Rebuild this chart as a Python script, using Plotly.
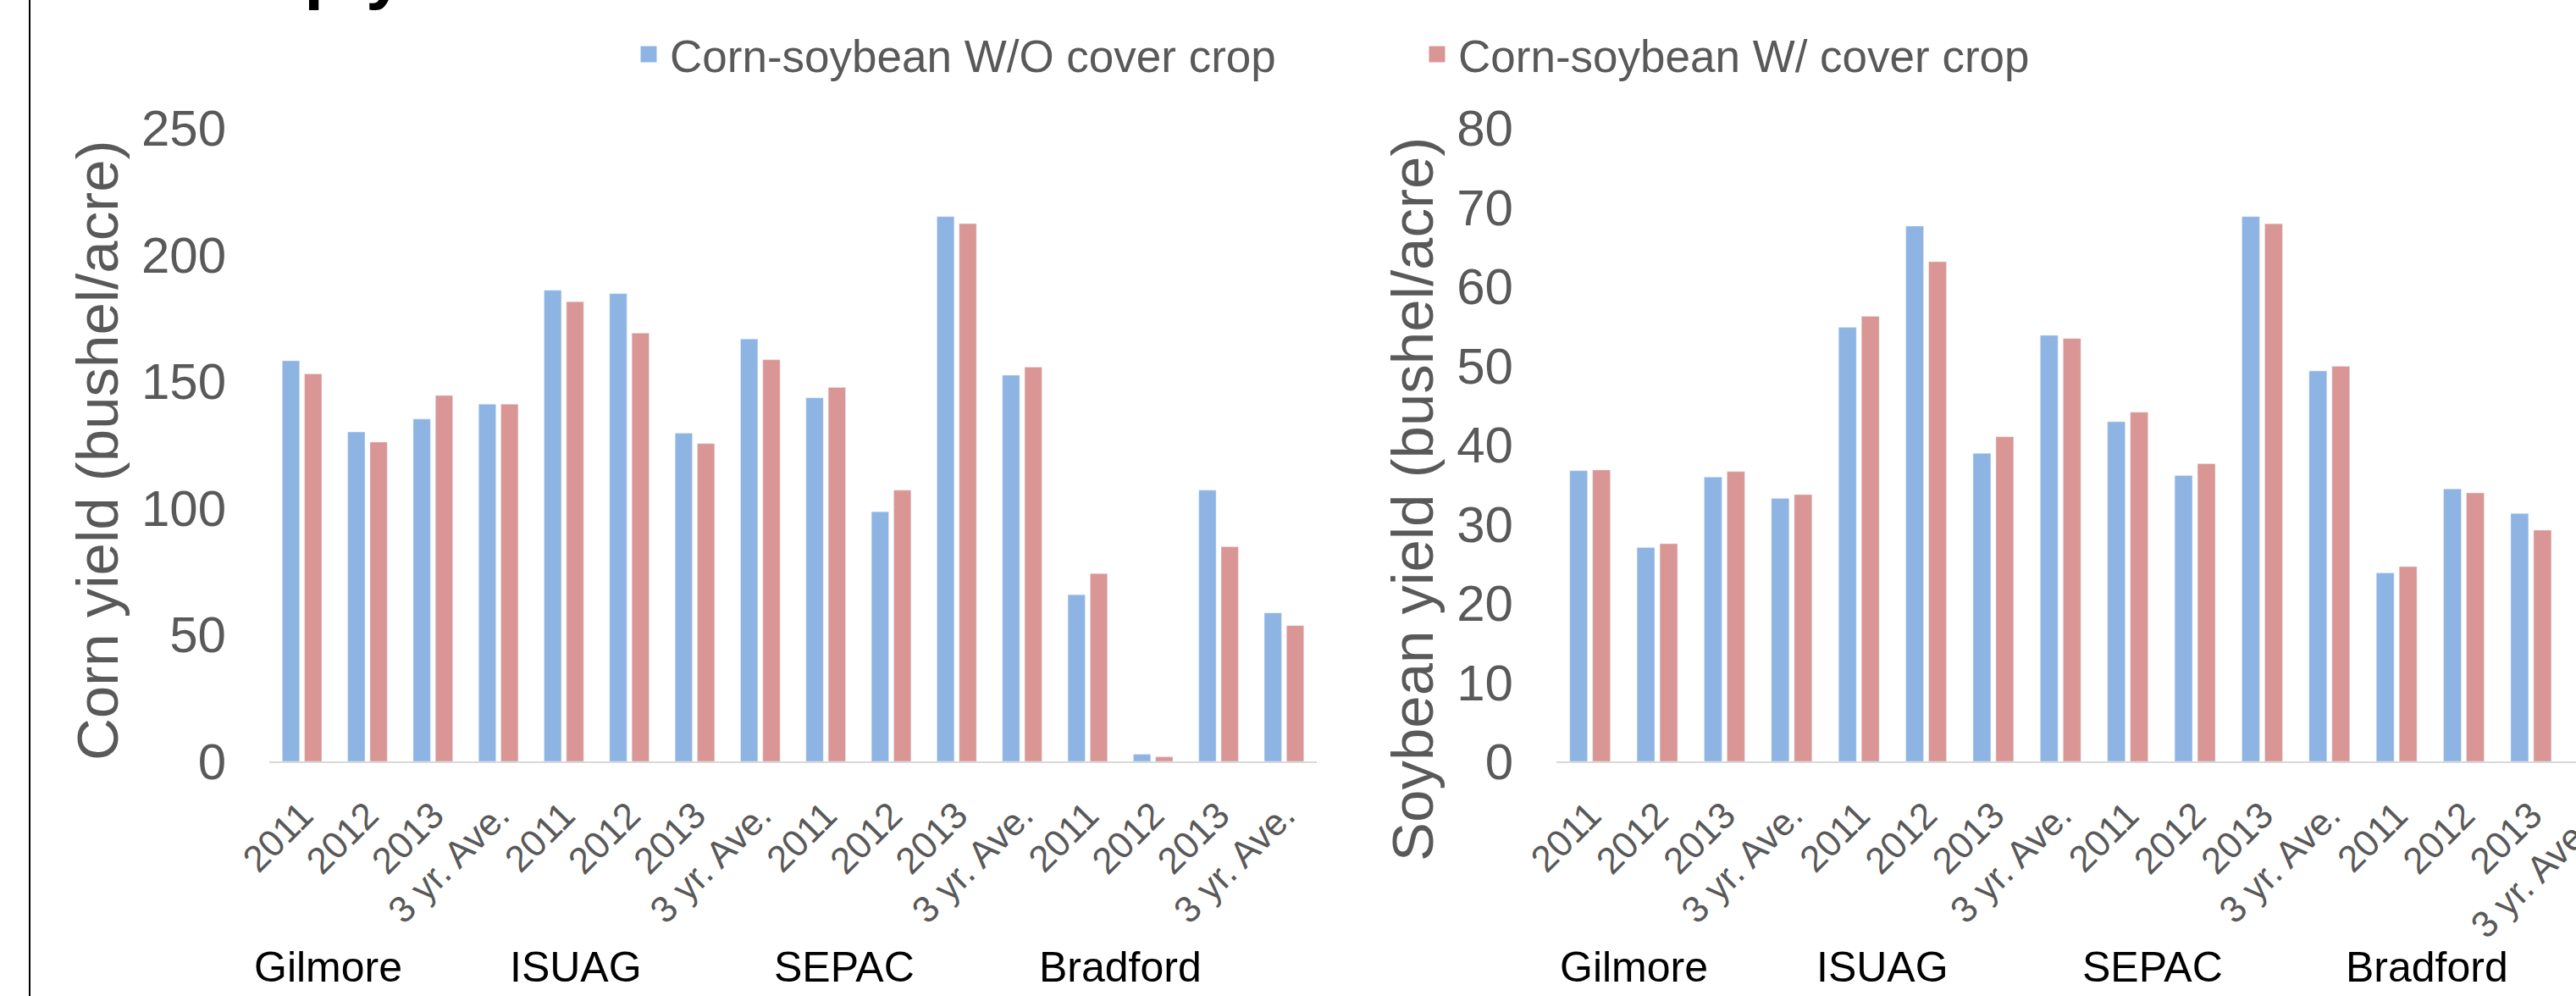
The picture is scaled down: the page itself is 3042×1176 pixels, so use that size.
import plotly.graph_objects as go

W, H = 3042, 1176

sites = ["Gilmore", "ISUAG", "SEPAC", "Bradford"]
periods = ["2011", "2012", "2013", "3 yr. Ave."]
categories = [f"{s} {p}" for s in sites for p in periods]
tick_labels = periods * 4

series_names = ["Corn-soybean W/O cover crop", "Corn-soybean W/ cover crop"]

corn_without = [158.1, 130.0, 135.1, 141.0,
                185.9, 184.6, 129.5, 166.7,
                143.5, 98.5, 215.0, 152.4,
                65.8, 2.8, 107.0, 58.6]
corn_with = [152.9, 126.0, 144.4, 141.0,
             181.4, 169.0, 125.4, 158.5,
             147.6, 107.0, 212.2, 155.6,
             74.1, 1.8, 84.7, 53.6]
soy_without = [36.7, 27.0, 35.9, 33.2,
               54.8, 67.6, 38.9, 53.8,
               42.9, 36.1, 68.8, 49.3,
               23.8, 34.4, 31.3, None]
soy_with = [36.8, 27.5, 36.6, 33.7,
            56.2, 63.1, 41.0, 53.4,
            44.1, 37.6, 67.9, 49.9,
            24.6, 33.9, 29.2, None]

corn_ticks = [0, 50, 100, 150, 200, 250]
soy_ticks = [0, 10, 20, 30, 40, 50, 60, 70, 80]

BLUE = "#8EB4E3"
RED = "#D99694"
GRAY = "#595959"
FONT = "Liberation Sans, Arial, sans-serif"


def px(x):
    return x / W


def py(y):
    return 1 - y / H


fig = go.Figure()

fig.add_trace(go.Bar(x=categories, y=corn_without, marker_color=BLUE, name=series_names[0],
                     showlegend=False, xaxis="x", yaxis="y"))
fig.add_trace(go.Bar(x=categories, y=corn_with, marker_color=RED, name=series_names[1],
                     showlegend=False, xaxis="x", yaxis="y"))
fig.add_trace(go.Bar(x=categories, y=soy_without, marker_color=BLUE, name=series_names[0],
                     showlegend=False, xaxis="x2", yaxis="y2"))
fig.add_trace(go.Bar(x=categories, y=soy_with, marker_color=RED, name=series_names[1],
                     showlegend=False, xaxis="x2", yaxis="y2"))

# legend entries
for nm, col in zip(series_names, [BLUE, RED]):
    fig.add_trace(go.Scatter(x=[None], y=[None], mode="markers", name=nm,
                             marker=dict(symbol="square", size=16, color=col,
                                         line=dict(color=col, width=3)),
                             xaxis="x", yaxis="y", showlegend=True))

ydom = [py(899), py(151)]

xcommon = dict(type="category", categoryorder="array", categoryarray=categories,
               tickmode="array", tickvals=categories, ticktext=tick_labels,
               tickangle=-45, tickfont=dict(family=FONT, size=44, color=GRAY),
               showline=True, linecolor="#D9D9D9", linewidth=2,
               showgrid=False, zeroline=False, ticks="", ticklabelstandoff=18,
               automargin=False)
ycommon = dict(showgrid=False, zeroline=False, showline=False, ticks="",
               tickfont=dict(family=FONT, size=60, color=GRAY), ticklabelstandoff=50,
               automargin=False)

fig.update_layout(
    width=W, height=H,
    margin=dict(l=0, r=0, t=0, b=0, pad=0, autoexpand=False),
    paper_bgcolor="white", plot_bgcolor="white",
    barmode="group", bargap=0.32, bargroupgap=0.226,
    font=dict(family=FONT, color=GRAY),
    xaxis=dict(domain=[px(318), px(1555)], anchor="y", range=[-0.5, 15.5], **xcommon),
    yaxis=dict(domain=ydom, anchor="x", range=[0, 250], tickvals=corn_ticks, **ycommon),
    xaxis2=dict(domain=[px(1838), 1.0], anchor="y2", range=[-0.5, 15.5 - (3108 - 3042) / 79.4], **xcommon),
    yaxis2=dict(domain=ydom, anchor="x2", range=[0, 80], tickvals=soy_ticks, **ycommon),
    legend=dict(orientation="h", x=px(741), xanchor="left", y=py(64), yanchor="middle",
                font=dict(family=FONT, size=53, color=GRAY), itemwidth=40,
                entrywidth=876, entrywidthmode="pixels", bgcolor="rgba(0,0,0,0)"),
    showlegend=True,
)

annotations = []
# axis titles
annotations.append(dict(text="Corn yield (bushel/acre)", x=px(116), y=py(532), xref="paper", yref="paper",
                        textangle=-90, showarrow=False, xanchor="center", yanchor="middle",
                        font=dict(family=FONT, size=69, color=GRAY)))
annotations.append(dict(text="Soybean yield (bushel/acre)", x=px(1669), y=py(590), xref="paper", yref="paper",
                        textangle=-90, showarrow=False, xanchor="center", yanchor="middle",
                        font=dict(family=FONT, size=69, color=GRAY)))
# site labels
left_site_x = [387, 680, 997, 1323]
right_site_x = [1929, 2223, 2542, 2866]
for s, xl, xr in zip(sites, left_site_x, right_site_x):
    for xx in (xl, xr):
        annotations.append(dict(text=s, x=px(xx), y=py(1142), xref="paper", yref="paper",
                                showarrow=False, xanchor="center", yanchor="middle",
                                font=dict(family=FONT, size=50, color="black")))
# clipped last tick label on the right panel
annotations.append(dict(text=periods[3], x=px(3073), y=py(952), xref="paper", yref="paper",
                        textangle=-45, showarrow=False, xanchor="right", yanchor="top",
                        font=dict(family=FONT, size=44, color=GRAY)))
# clipped slide title at top
annotations.append(dict(text="<b>Crop yield</b>", x=px(216), y=py(14), xref="paper", yref="paper",
                        showarrow=False, xanchor="left", yanchor="bottom",
                        font=dict(family=FONT, size=82, color="black")))
fig.update_layout(annotations=annotations)

fig.add_shape(type="line", xref="paper", yref="paper", x0=px(35), x1=px(35), y0=0, y1=1,
              line=dict(color="black", width=2))

fig.write_html("out.html")
